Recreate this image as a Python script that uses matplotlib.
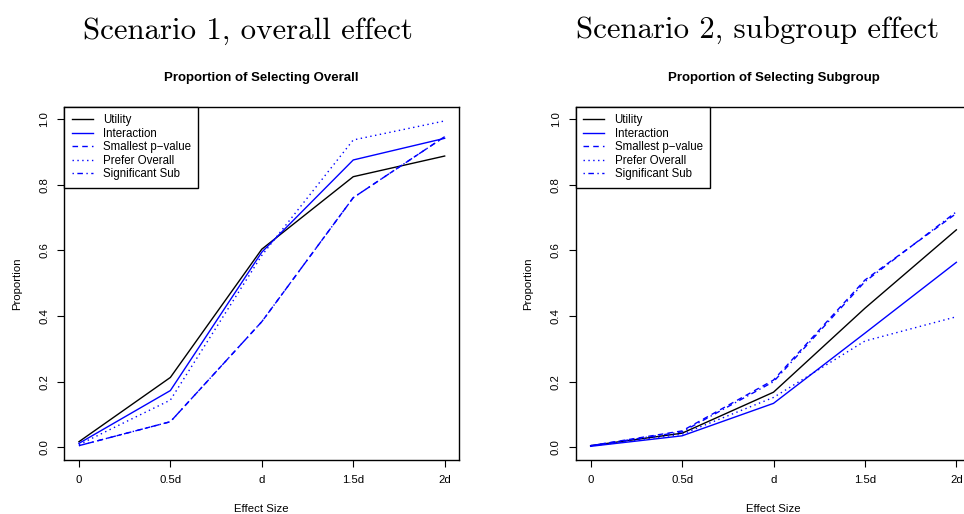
import matplotlib
matplotlib.use("Agg")
import matplotlib.pyplot as plt

plt.rcParams["font.family"] = ["Liberation Sans", "DejaVu Sans"]

# Effect-size grid shared by both scenarios
effect_labels = ["0", "0.5d", "d", "1.5d", "2d"]
effect_pos = [0, 1, 2, 3, 4]

series_names = ["Utility", "Interaction", "Smallest p\u2212value",
                "Prefer Overall", "Significant Sub"]

# Scenario 1: proportion of selecting the overall population
s1_utility = [0.017, 0.213, 0.604, 0.825, 0.888]
s1_interaction = [0.012, 0.173, 0.595, 0.876, 0.942]
s1_smallest_p = [0.005, 0.078, 0.383, 0.761, 0.947]
s1_prefer_overall = [0.008, 0.144, 0.585, 0.937, 0.995]
s1_significant_sub = [0.005, 0.078, 0.383, 0.761, 0.947]

# Scenario 2: proportion of selecting the subgroup
s2_utility = [0.005, 0.043, 0.168, 0.424, 0.663]
s2_interaction = [0.003, 0.035, 0.134, 0.348, 0.564]
s2_smallest_p = [0.005, 0.050, 0.205, 0.510, 0.713]
s2_prefer_overall = [0.004, 0.040, 0.152, 0.324, 0.398]
s2_significant_sub = [0.005, 0.047, 0.200, 0.505, 0.718]

styles = [
    dict(color="black", linestyle="-"),
    dict(color="blue", linestyle="-"),
    dict(color="blue", linestyle=(0, (4, 3))),
    dict(color="blue", linestyle=(0, (1, 2.5))),
    dict(color="blue", linestyle=(0, (1, 2.5, 4, 2.5))),
]

W, H = 964, 514
fig = plt.figure(figsize=(W / 100, H / 100), dpi=100)

ax_w = 395 / W
ax_h = (460 - 106.7) / H
ax_b = (H - 460) / H
ax1 = fig.add_axes([64.3 / W, ax_b, ax_w, ax_h])
ax2 = fig.add_axes([576.0 / W, ax_b, ax_w, ax_h])

panels = [
    (ax1, "Proportion of Selecting Overall",
     [s1_utility, s1_interaction, s1_smallest_p, s1_prefer_overall, s1_significant_sub]),
    (ax2, "Proportion of Selecting Subgroup",
     [s2_utility, s2_interaction, s2_smallest_p, s2_prefer_overall, s2_significant_sub]),
]

for ax, title, data in panels:
    for name, vals, st in zip(series_names, data, styles):
        ax.plot(effect_pos, vals, lw=1.0, label=name, **st)
    ax.set_xlim(-0.16, 4.16)
    ax.set_ylim(-0.0387, 1.0384)
    ax.set_xticks(effect_pos)
    ax.set_xticklabels(effect_labels)
    ax.set_yticks([0.0, 0.2, 0.4, 0.6, 0.8, 1.0])
    ax.set_yticklabels(["0.0", "0.2", "0.4", "0.6", "0.8", "1.0"],
                       rotation=90, va="center")
    ax.tick_params(direction="out", length=5, width=0.8, labelsize=8.2)
    ax.tick_params(axis="y", pad=6.0)
    ax.tick_params(axis="x", pad=5.5)
    for sp in ax.spines.values():
        sp.set_linewidth(1.0)
    ax.set_xlabel("Effect Size", fontsize=8.2)
    ax.xaxis.set_label_coords(0.5, -49 / 353.3)
    ax.xaxis.label.set_va("center")
    ax.set_ylabel("Proportion", fontsize=8.2)
    ax.yaxis.set_label_coords(-47.6 / 395, 0.5)
    ax.yaxis.label.set_va("center")
    ax.text(0.5, 1 + 28.7 / 353.3, title, transform=ax.transAxes,
            ha="center", va="center", fontsize=9.5, fontweight="bold")
    leg = ax.legend(loc="upper left", bbox_to_anchor=(0, 1), borderaxespad=0,
                    fancybox=False, edgecolor="black", framealpha=1,
                    fontsize=8.3, handlelength=1.8, handletextpad=0.9,
                    labelspacing=0.13, borderpad=0.65)
    leg.get_frame().set_linewidth(1.0)

fig.text(247.5 / W, 1 - 39 / H, "Scenario 1, overall effect",
         fontfamily="cmr10", fontsize=22.2, ha="center", va="baseline")
fig.text(758 / W, 1 - 39 / H, "Scenario 2, subgroup effect",
         fontfamily="cmr10", fontsize=22.2, ha="center", va="baseline")

fig.savefig("out.png", dpi=100)
